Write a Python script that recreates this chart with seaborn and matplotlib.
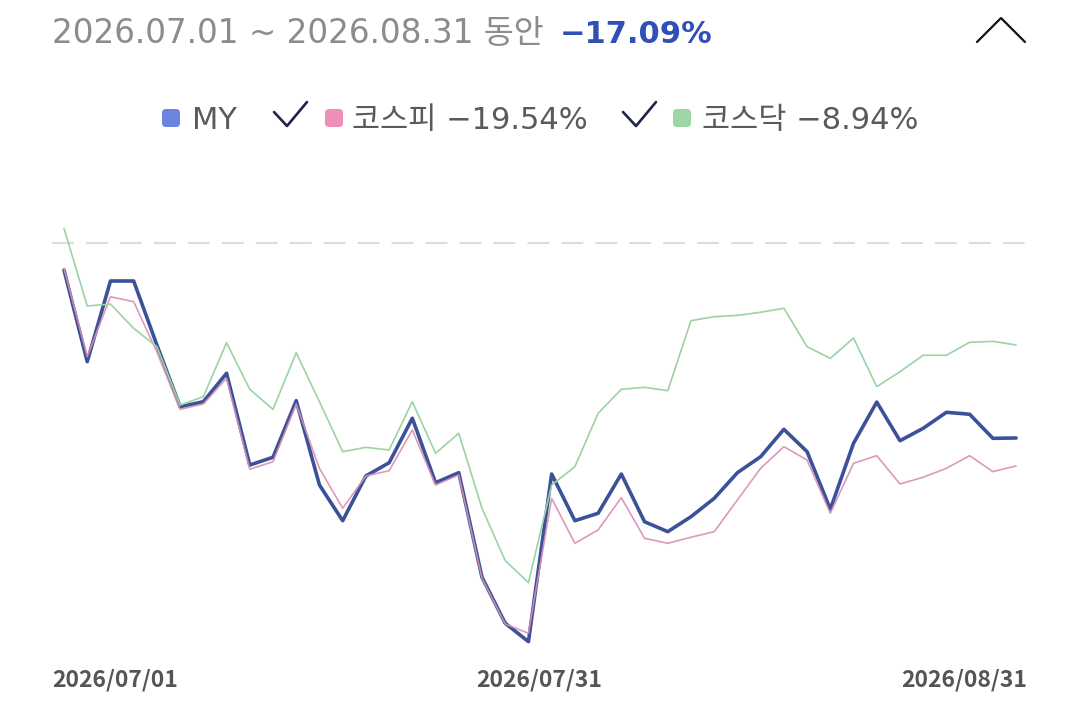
import matplotlib
matplotlib.use("Agg")
import matplotlib.pyplot as plt
from matplotlib.lines import Line2D
from matplotlib.patches import FancyBboxPatch
import seaborn as sns
import pandas as pd

# cumulative return (%) per trading day
my_returns = [-2.37, -10.40, -3.33, -3.33, -8.94, -14.35, -13.91, -11.42, -19.46, -18.78,
              -13.82, -21.21, -24.34, -20.42, -19.26, -15.36, -21.01, -20.13, -29.30, -33.33,
              -34.94, -20.25, -24.34, -23.69, -20.25, -24.43, -25.30, -23.99, -22.38, -20.13,
              -18.73, -16.33, -18.29, -23.34, -17.55, -13.94, -17.33, -16.24, -14.84, -15.01,
              -17.12, -17.09]
kospi_returns = [-2.22, -9.96, -4.71, -5.14, -9.55, -14.58, -14.11, -11.86, -19.83, -19.17,
                 -14.11, -19.75, -23.25, -20.42, -19.96, -16.39, -21.21, -20.33, -29.39, -33.39,
                 -34.21, -22.38, -26.32, -25.15, -22.32, -25.88, -26.32, -25.79, -25.30, -22.52,
                 -19.75, -17.85, -19.02, -23.69, -19.31, -18.64, -21.12, -20.53, -19.75, -18.64,
                 -20.04, -19.54]
kosdaq_returns = [1.29, -5.52, -5.35, -7.48, -9.09, -14.20, -13.47, -8.74, -12.82, -14.58,
                  -9.61, -13.91, -18.29, -17.91, -18.14, -13.91, -18.43, -16.68, -23.25, -27.84,
                  -29.77, -21.21, -19.61, -14.93, -12.82, -12.65, -12.94, -6.81, -6.46, -6.34,
                  -6.07, -5.72, -9.09, -10.11, -8.33, -12.59, -11.28, -9.84, -9.84, -8.70,
                  -8.62, -8.94]
tick_labels = ["2026/07/01", "2026/07/31", "2026/08/31"]
period_text = "2026.07.01 ~ 2026.08.31 동안"
my_total = "\u221217.09%"
legend_labels = ["MY", "코스피 \u221219.54%", "코스닥 \u22128.94%"]

sns.set_style("white")
plt.rcParams['font.family'] = ['Noto Sans CJK KR', 'DejaVu Sans']
header_font = ['DejaVu Sans', 'Noto Sans CJK KR']

df = pd.DataFrame({
    "day": range(len(my_returns)),
    "MY": my_returns,
    "KOSPI": kospi_returns,
    "KOSDAQ": kosdaq_returns,
})

W, H = 1080, 704
fig = plt.figure(figsize=(W / 100, H / 100), dpi=100)
ax = fig.add_axes([52 / W, 1 - 660 / H, 975 / W, 460 / H])

sns.lineplot(data=df, x="day", y="MY", color="#3b5299", linewidth=2.6, ax=ax)
sns.lineplot(data=df, x="day", y="KOSPI", color="#d98fb3", linewidth=1.2, alpha=0.9, ax=ax)
sns.lineplot(data=df, x="day", y="KOSDAQ", color="#9bd3a5", linewidth=1.2, ax=ax)
ax.axhline(0, color="#dcdcdc", linewidth=1.5, dashes=(10.5, 5.8), zorder=0)

x0, x1 = -0.517, 41.47
ax.set_xlim(x0, x1)
ax.set_ylim(-36.55, 3.77)
ax.set_xticks([x0, (x0 + x1) / 2, x1])
ax.set_xticklabels(tick_labels, fontsize=16.5, color="#555555", fontweight="bold")
for lab, ha in zip(ax.get_xticklabels(), ["left", "center", "right"]):
    lab.set_ha(ha)
ax.tick_params(axis="x", length=0, pad=6)
ax.set_yticks([])
ax.set_xlabel("")
ax.set_ylabel("")
sns.despine(ax=ax, left=True, bottom=True)

# header and legend, placed in pixel units (inches * 100)
tr = fig.dpi_scale_trans


def px(x, y):
    return x / 100, (H - y) / 100


fig.text(*px(52, 43), period_text, transform=tr, fontsize=23.5, color="#8c8c8c",
         va="baseline", family=header_font)
fig.text(*px(560, 43), my_total, transform=tr, fontsize=22, color="#3050b8",
         fontweight="bold", va="baseline", family=header_font)
fig.add_artist(Line2D([x / 100 for x in (977, 1001, 1025)], [(H - y) / 100 for y in (42, 18, 42)],
                      transform=tr, color="#111111", linewidth=1.6))

square_colors = ["#6a85e0", "#ef8fb5", "#9ed5a6"]
square_x = [162, 325, 673]
text_x = [192, 352, 702]
for sx, c, tx, lab in zip(square_x, square_colors, text_x, legend_labels):
    bx, by = px(sx, 127)
    fig.add_artist(FancyBboxPatch((bx, by), 0.18, 0.18, boxstyle="round,pad=0,rounding_size=0.04",
                                  transform=tr, facecolor=c, edgecolor="none"))
    fig.text(*px(tx, 129), lab, transform=tr, fontsize=22, color="#5a5a5a",
             va="baseline", family=header_font)

for cx in (274, 623):
    fig.add_artist(Line2D([(cx) / 100, (cx + 13) / 100, (cx + 33) / 100],
                          [(H - 112) / 100, (H - 126) / 100, (H - 102) / 100],
                          transform=tr, color="#20244d", linewidth=1.9))

fig.savefig("out.png", dpi=100)
